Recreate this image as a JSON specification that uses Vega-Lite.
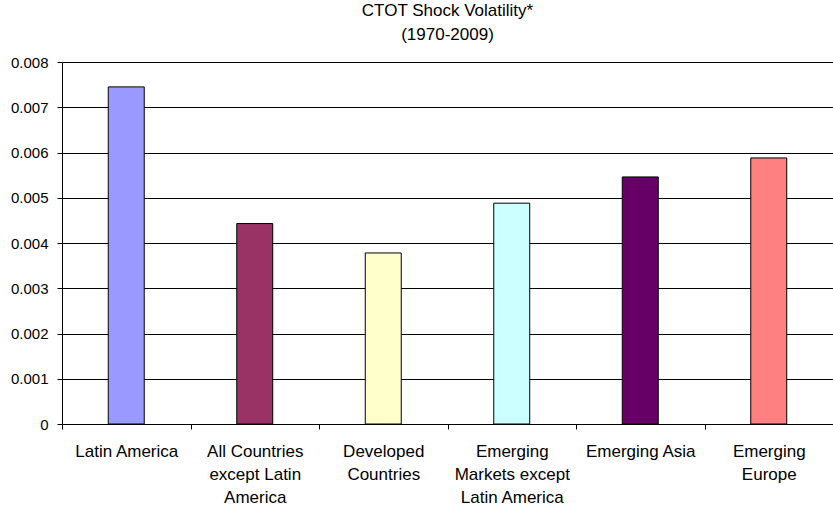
{
  "$schema": "https://vega.github.io/schema/vega-lite/v6.json",
  "width": 771,
  "height": 362,
  "autosize": {"type": "none"},
  "padding": {"left": 62, "top": 62, "right": 0, "bottom": 85},
  "background": "white",
  "title": {
    "text": ["CTOT Shock Volatility*", "(1970-2009)"],
    "font": "Liberation Sans",
    "fontSize": 17,
    "fontWeight": "normal",
    "color": "black",
    "lineHeight": 24,
    "anchor": "middle",
    "offset": 11
  },
  "data": {
    "values": [
      {"region": "Latin America", "value": 0.00745, "color": "#9999FF"},
      {"region": "All Countries except Latin America", "value": 0.00443, "color": "#993366"},
      {"region": "Developed Countries", "value": 0.00378, "color": "#FFFFCC"},
      {"region": "Emerging Markets except Latin America", "value": 0.00488, "color": "#CCFFFF"},
      {"region": "Emerging Asia", "value": 0.00546, "color": "#660066"},
      {"region": "Emerging Europe", "value": 0.00588, "color": "#FF8080"}
    ]
  },
  "mark": {"type": "bar", "stroke": "black", "strokeWidth": 1, "width": {"band": 0.28}},
  "encoding": {
    "x": {
      "field": "region",
      "type": "nominal",
      "sort": null,
      "scale": {"paddingInner": 0, "paddingOuter": 0},
      "axis": {
        "title": null,
        "labelAngle": 0,
        "labelFont": "Liberation Sans",
        "labelFontSize": 17,
        "labelColor": "black",
        "labelLineHeight": 23,
        "labelPadding": 14,
        "labelBaseline": "top",
        "domainColor": "black",
        "tickColor": "black",
        "tickSize": 5,
        "tickBand": "extent",
        "grid": false,
        "labelExpr": "datum.value == 'All Countries except Latin America' ? ['All Countries', 'except Latin', 'America'] : datum.value == 'Developed Countries' ? ['Developed', 'Countries'] : datum.value == 'Emerging Markets except Latin America' ? ['Emerging', 'Markets except', 'Latin America'] : datum.value == 'Emerging Europe' ? ['Emerging', 'Europe'] : datum.value"
      }
    },
    "y": {
      "field": "value",
      "type": "quantitative",
      "scale": {"domain": [0, 0.008], "nice": false},
      "axis": {
        "title": null,
        "values": [0, 0.001, 0.002, 0.003, 0.004, 0.005, 0.006, 0.007, 0.008],
        "labelExpr": "datum.value == 0 ? '0' : format(datum.value, '.3f')",
        "labelFont": "Liberation Sans",
        "labelFontSize": 15,
        "labelColor": "black",
        "labelPadding": 9,
        "domainColor": "black",
        "tickColor": "black",
        "tickSize": 5,
        "grid": true,
        "gridColor": "black",
        "gridWidth": 1
      }
    },
    "fill": {"field": "color", "type": "nominal", "scale": null, "legend": null}
  },
  "config": {"view": {"stroke": null}}
}
